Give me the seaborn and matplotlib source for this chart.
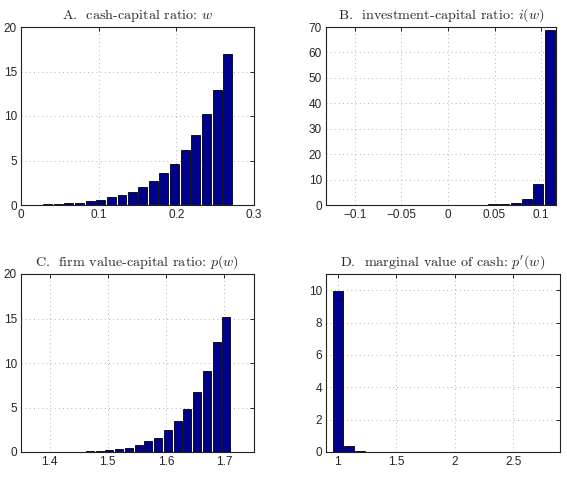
import numpy as np
import pandas as pd
import matplotlib
matplotlib.use("Agg")
import matplotlib.pyplot as plt
import seaborn as sns

# ==========================================
# data (histogram bin centres and heights)
# ==========================================
cash_bins = [0.007, 0.020, 0.034, 0.048, 0.061, 0.075, 0.089, 0.102, 0.116, 0.130,
             0.143, 0.157, 0.171, 0.184, 0.198, 0.212, 0.225, 0.239, 0.253, 0.266]
cash_pct = [0.01, 0.03, 0.07, 0.11, 0.19, 0.26, 0.41, 0.56, 0.86, 1.16,
            1.46, 2.02, 2.73, 3.59, 4.64, 6.17, 7.85, 10.28, 12.97, 16.93]

inv_bins = [-0.125, -0.112, -0.100, -0.088, -0.075, -0.063, -0.051, -0.038, -0.026, -0.014,
            -0.001, 0.011, 0.023, 0.036, 0.048, 0.060, 0.073, 0.085, 0.097, 0.110]
inv_pct = [0, 0, 0, 0, 0, 0, 0, 0, 0, 0,
           0, 0, 0.02, 0.1, 0.2, 0.4, 0.9, 2.2, 8.1, 68.8]

value_bins = [1.385, 1.402, 1.419, 1.435, 1.452, 1.469, 1.486, 1.502, 1.519, 1.536,
              1.553, 1.569, 1.586, 1.603, 1.620, 1.636, 1.653, 1.670, 1.687, 1.703]
value_pct = [0.005, 0.01, 0.015, 0.02, 0.03, 0.07, 0.15, 0.19, 0.34, 0.49,
             0.82, 1.23, 1.61, 2.47, 3.51, 4.79, 6.69, 9.08, 12.41, 15.14]

mv_bins = [1.000, 1.097, 1.194, 1.291, 1.388, 1.485, 1.582, 1.679, 1.776, 1.873,
           1.970, 2.067, 2.164, 2.261, 2.358, 2.455, 2.552, 2.649, 2.746, 2.843]
mv_pct = [9.95, 0.35, 0.08, 0.02, 0.005, 0, 0, 0, 0, 0,
          0, 0, 0, 0, 0, 0, 0, 0, 0, 0]

titles = [r"A.  cash-capital ratio: $w$",
          r"B.  investment-capital ratio: $i(w)$",
          r"C.  firm value-capital ratio: $p(w)$",
          r"D.  marginal value of cash: $p'(w)$"]

# ==========================================
# style
# ==========================================
sns.set_style("white")
plt.rcParams['font.family'] = ['Liberation Sans', 'DejaVu Sans']
plt.rcParams['mathtext.fontset'] = 'cm'
bar_color = '#00008f'

fig = plt.figure(figsize=(5.67, 4.83), dpi=100)
W, H = 567, 483
boxes = [(21, 27, 254, 205), (326, 27, 556, 205),
         (21, 274, 254, 452), (326, 274, 560, 452)]
axes = [fig.add_axes([l / W, 1 - b / H, (r - l) / W, (b - t) / H]) for l, t, r, b in boxes]

panels = [
    (cash_bins, cash_pct, (0, 0.3), (0, 20), [0, 0.1, 0.2, 0.3], ['0', '0.1', '0.2', '0.3'], [0, 5, 10, 15, 20]),
    (inv_bins, inv_pct, (-0.131, 0.116), (0, 70), [-0.1, -0.05, 0, 0.05, 0.1],
     ['\u22120.1', '\u22120.05', '0', '0.05', '0.1'], list(range(0, 71, 10))),
    (value_bins, value_pct, (1.351, 1.751), (0, 20), [1.4, 1.5, 1.6, 1.7], ['1.4', '1.5', '1.6', '1.7'], [0, 5, 10, 15, 20]),
    (mv_bins, mv_pct, (0.9, 2.9), (0, 11), [1, 1.5, 2, 2.5], ['1', '1.5', '2', '2.5'], [0, 2, 4, 6, 8, 10]),
]

for ax, title, (bins, pct, xlim, ylim, xt, xtl, yt) in zip(axes, titles, panels):
    df = pd.DataFrame({'bin': bins, 'pct': pct})
    sns.barplot(data=df, x='bin', y='pct', native_scale=True, width=0.88,
                color=bar_color, saturation=1, edgecolor='black', linewidth=0.6, ax=ax)
    ax.set_xlim(*xlim)
    ax.set_ylim(*ylim)
    ax.set_xticks(xt)
    ax.set_xticklabels(xtl)
    ax.set_yticks(yt)
    ax.set_xlabel('')
    ax.set_ylabel('')
    ax.grid(True, linestyle=(0, (1, 4)), color='#999999', linewidth=0.6)
    ax.set_axisbelow(True)
    ax.tick_params(axis='both', direction='in', length=3, width=0.6, labelsize=8.5,
                   top=True, right=True, pad=3, color='black')
    for sp in ax.spines.values():
        sp.set_visible(True)
        sp.set_color('#222222')
        sp.set_linewidth(0.8)
    ax.set_title(title, fontsize=10.2, family='cmr10', pad=6)

fig.savefig('out.png', dpi=100)
